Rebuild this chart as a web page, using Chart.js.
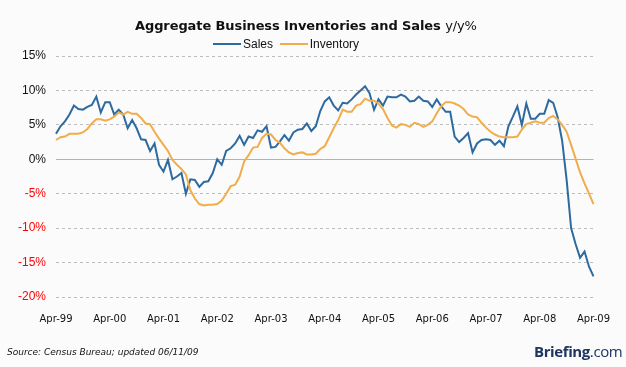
<!DOCTYPE html>
<html>
<head>
<meta charset="utf-8">
<script src="https://cdn.jsdelivr.net/npm/chart.js"></script>
<style>
  html, body { margin: 0; padding: 0; background: #fbfbfb; }
  #wrap { position: relative; width: 626px; height: 367px; background: #fbfbfb; overflow: hidden; }
  #c { position: absolute; left: 0; top: 0; }
  .title { position: absolute; left: 135px; top: 18px; font: bold 13px "DejaVu Sans", sans-serif; color: #111; white-space: nowrap; letter-spacing: -0.1px; }
  .title span { font-weight: normal; }
  .legend { position: absolute; left: 213px; top: 37px; font: 12px "Liberation Sans", Arial, sans-serif; color: #111; white-space: nowrap; }
  .legend i { display: inline-block; width: 28px; height: 2px; vertical-align: middle; margin-right: 2px; position: relative; top: -1px; }
  .src { position: absolute; left: 7px; top: 347px; font: italic 9px "DejaVu Sans", sans-serif; color: #111; white-space: nowrap; }
  .logo { position: absolute; left: 534px; top: 341px; font: 15px "Open Sans", sans-serif; color: #1e3560; white-space: nowrap; letter-spacing: -0.4px; }
  .logo b { font-weight: 700; }
</style>
</head>
<body>
<div id="wrap">
  <canvas id="c" width="626" height="367"></canvas>
  <div class="title">Aggregate Business Inventories and Sales <span>y/y%</span></div>
  <div class="legend"><i style="background:#2d6aa0"></i>Sales&nbsp;&nbsp;<i style="background:#f0ad4a"></i>Inventory</div>
  <div class="src">Source: Census Bureau; updated 06/11/09</div>
  <div class="logo"><b>Briefing</b>.com</div>
</div>
<script>
// Monthly categories, Apr-99 .. Apr-09
const monthNames = ['Jan','Feb','Mar','Apr','May','Jun','Jul','Aug','Sep','Oct','Nov','Dec'];
const years = ['99','00','01','02','03','04','05','06','07','08','09'];
const tickLabels = ['Apr-99','Apr-00','Apr-01','Apr-02','Apr-03','Apr-04','Apr-05','Apr-06','Apr-07','Apr-08','Apr-09'];

const categories = [];
for (let y = 0; y < years.length; y++) {
  for (let m = 0; m < 12; m++) {
    if (y === 0 && m < 3) continue;
    if (y === years.length - 1 && m > 3) continue;
    categories.push(monthNames[m] + '-' + years[y]);
  }
}

const sales = [
  3.7, 4.8, 5.5, 6.5, 7.8, 7.3, 7.2, 7.6, 7.9, 9.1,
  6.8, 8.3, 8.3, 6.5, 7.2, 6.5, 4.5, 5.7, 4.5, 2.9,
  2.8, 1.2, 2.3, -0.8, -1.8, -0.1, -2.9, -2.5, -2.0, -5.0,
  -2.9, -3.0, -4.0, -3.3, -3.2, -2.0, 0.0, -0.8, 1.2, 1.6,
  2.3, 3.4, 2.1, 3.3, 3.1, 4.2, 4.0, 4.8, 1.7, 1.8,
  2.6, 3.5, 2.7, 3.9, 4.3, 4.4, 5.2, 4.1, 4.8, 7.0,
  8.4, 9.0, 7.8, 7.1, 8.2, 8.1, 8.7, 9.4, 10.0, 10.6,
  9.6, 7.2, 8.7, 7.8, 9.1, 9.0, 9.0, 9.4, 9.1, 8.4,
  8.5, 9.1, 8.5, 8.4, 7.6, 8.7, 7.7, 6.9, 6.9, 3.3,
  2.5, 3.1, 3.8, 1.0, 2.3, 2.8, 2.9, 2.8, 2.1, 2.7,
  1.9, 4.8, 6.2, 7.7, 5.0, 8.1, 5.9, 5.9, 6.6, 6.6,
  8.6, 8.2, 6.1, 2.7, -3.0, -10.0, -12.3, -14.3, -13.4, -15.6,
  -17.0
];

const inventory = [
  2.8, 3.2, 3.3, 3.7, 3.7, 3.7, 3.9, 4.4, 5.2, 5.8,
  5.8, 5.6, 5.8, 6.2, 6.8, 6.5, 6.9, 6.6, 6.6, 6.0,
  5.2, 5.1, 4.0, 3.0, 2.1, 1.2, -0.1, -0.8, -1.4, -2.2,
  -4.5, -5.7, -6.5, -6.7, -6.6, -6.6, -6.5, -6.0, -5.0, -3.9,
  -3.7, -2.5, -0.3, 0.6, 1.7, 1.8, 3.1, 3.7, 3.6, 2.8,
  2.4, 1.6, 1.0, 0.7, 0.9, 1.0, 0.7, 0.7, 0.8, 1.5,
  1.9, 3.2, 4.5, 5.7, 7.2, 6.9, 6.9, 7.8, 8.0, 8.8,
  8.5, 8.5, 8.1, 7.3, 6.0, 4.9, 4.6, 5.1, 5.0, 4.7,
  5.3, 5.1, 4.7, 5.0, 5.5, 6.7, 7.7, 8.3, 8.3, 8.1,
  7.8, 7.3, 6.5, 6.2, 6.1, 5.3, 4.6, 4.0, 3.6, 3.3,
  3.2, 3.2, 3.2, 3.3, 4.3, 5.1, 5.3, 5.5, 5.3, 5.3,
  6.0, 6.3, 5.8, 5.0, 4.0, 2.1, 0.1, -1.9, -3.5, -5.0,
  -6.5
];

const zeroLine = {
  id: 'zeroLine',
  beforeDatasetsDraw(chart) {
    const y = Math.round(chart.scales.y.getPixelForValue(0)) + 0.5;
    const ctx = chart.ctx;
    ctx.save();
    ctx.strokeStyle = '#b2b2b2';
    ctx.lineWidth = 1;
    ctx.setLineDash([]);
    ctx.beginPath();
    ctx.moveTo(chart.chartArea.left, y);
    ctx.lineTo(chart.chartArea.right, y);
    ctx.stroke();
    ctx.restore();
  }
};

new Chart(document.getElementById('c'), {
  type: 'line',
  data: {
    labels: categories,
    datasets: [
      { label: 'Inventory', data: inventory, borderColor: '#f0ad4a', borderWidth: 2, pointRadius: 0, tension: 0, fill: false },
      { label: 'Sales', data: sales, borderColor: '#2d6aa0', borderWidth: 2, pointRadius: 0, tension: 0, fill: false }
    ]
  },
  options: {
    responsive: false,
    animation: false,
    devicePixelRatio: 1,
    layout: { padding: { top: 56, right: 29, bottom: 0, left: 0 } },
    plugins: { legend: { display: false }, title: { display: false }, tooltip: { enabled: false } },
    scales: {
      x: {
        grid: { display: false, drawTicks: false },
        border: { display: false },
        ticks: {
          autoSkip: false, maxRotation: 0, minRotation: 0, padding: 16,
          color: '#111',
          font: { family: 'DejaVu Sans', size: 10 },
          callback: function(v, i) { const l = categories[i]; return tickLabels.indexOf(l) >= 0 ? l : ''; }
        },
        afterFit: function(s) { s.height = 70; }
      },
      y: {
        min: -20, max: 15,
        grid: { color: '#bdbdbd', lineWidth: 1, drawTicks: false, borderDash: [3, 3] },
        border: { display: false, dash: [3, 3] },
        ticks: {
          stepSize: 5, padding: 10,
          font: { family: 'Liberation Sans', size: 12 },
          color: function(ctx) { return ctx.tick && ctx.tick.value < 0 ? '#ff0000' : '#111'; },
          callback: function(v) { return v + '%'; }
        },
        afterFit: function(s) { s.width = 56; }
      }
    }
  },
  plugins: [zeroLine]
});
</script>
</body>
</html>
